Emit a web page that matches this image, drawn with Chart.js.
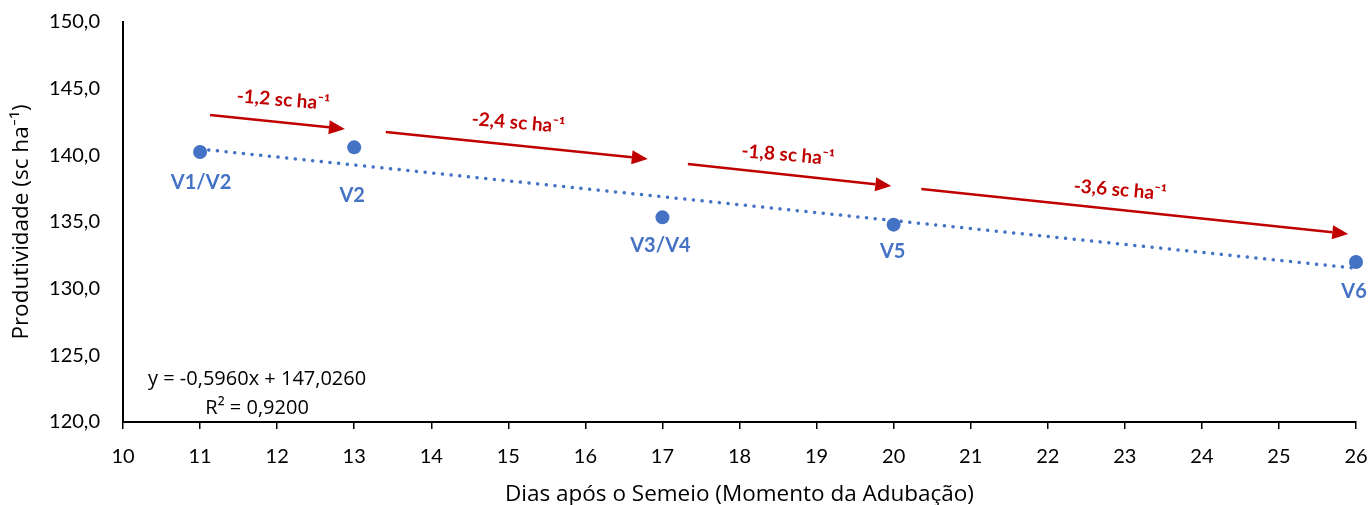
<!DOCTYPE html>
<html>
<head>
<meta charset="utf-8">
<script src="https://cdn.jsdelivr.net/npm/chart.js@4.4.1/dist/chart.umd.min.js"></script>
<style>
  html,body{margin:0;padding:0;background:#fff;overflow:hidden}
  #wrap{width:1369px;height:505px;position:relative}
</style>
</head>
<body>
<div id="wrap"><canvas id="grafico"></canvas></div>
<script>
// dados
const dias = [11, 13, 17, 20, 26];
const produtividade = [140.25, 140.6, 135.35, 134.8, 132.0];
const estadios = ["V1/V2", "V2", "V3/V4", "V5", "V6"];
const tendenciaX = [11, 26];
const tendenciaY = [140.47, 131.53];
const perdas = ["-1,2 sc ha⁻¹", "-2,4 sc ha⁻¹", "-1,8 sc ha⁻¹", "-3,6 sc ha⁻¹"];
const equacao = ["y = -0,5960x + 147,0260", "R² = 0,9200"];

const AZUL = "#4472C4";
const VERMELHO = "#C00000";
const FONTE = "Lato, 'Open Sans', sans-serif";
const FONTE_TIT = "'Open Sans', Lato, sans-serif";

function qs(id){ return document.getElementById(id); }

// setas e rótulos em coordenadas do gráfico (x = dias, y = sc/ha)
const anotacoes = {
  setas: [
    [[11.13, 143.03], [12.88, 141.98]],
    [[13.41, 141.75], [16.81, 139.73]],
    [[17.33, 139.35], [19.97, 137.70]],
    [[20.36, 137.48], [25.90, 134.10]]
  ],
  rotulos: [[12.08, 144.15], [15.13, 142.43], [18.63, 140.03], [22.94, 137.40]],
  equacaoPos: [[11.74, 123.23], [11.74, 121.05]],
  deslocEstadio: [[1, 31], [-2, 48], [-2, 28], [-1, 27], [-2, 30]]
};

const pluginAnotacoes = {
  id: "anotacoes",
  afterDatasetsDraw(chart){
    const {ctx, scales:{x, y}} = chart;
    ctx.save();

    // rótulos dos estádios
    const meta = chart.getDatasetMeta(0);
    ctx.font = "bold 20px " + FONTE;
    ctx.fillStyle = AZUL;
    ctx.textAlign = "center";
    ctx.textBaseline = "middle";
    meta.data.forEach((p, i) => {
      const d = anotacoes.deslocEstadio[i];
      ctx.fillText(estadios[i], p.x + d[0], p.y + d[1]);
    });

    // setas vermelhas
    ctx.strokeStyle = VERMELHO;
    ctx.fillStyle = VERMELHO;
    ctx.lineWidth = 2.5;
    anotacoes.setas.forEach(s => {
      const x0 = x.getPixelForValue(s[0][0]), y0 = y.getPixelForValue(s[0][1]);
      const x1 = x.getPixelForValue(s[1][0]), y1 = y.getPixelForValue(s[1][1]);
      const ang = Math.atan2(y1 - y0, x1 - x0);
      const cab = 16, larg = 7;
      const bx = x1 - cab * Math.cos(ang), by = y1 - cab * Math.sin(ang);
      ctx.beginPath();
      ctx.moveTo(x0, y0);
      ctx.lineTo(bx, by);
      ctx.stroke();
      ctx.beginPath();
      ctx.moveTo(x1, y1);
      ctx.lineTo(bx + larg * Math.sin(ang), by - larg * Math.cos(ang));
      ctx.lineTo(bx - larg * Math.sin(ang), by + larg * Math.cos(ang));
      ctx.closePath();
      ctx.fill();
    });

    // valores das perdas
    ctx.font = "bold 19px " + FONTE;
    anotacoes.rotulos.forEach((r, i) => {
      const s = anotacoes.setas[i];
      const ang = Math.atan2(
        y.getPixelForValue(s[1][1]) - y.getPixelForValue(s[0][1]),
        x.getPixelForValue(s[1][0]) - x.getPixelForValue(s[0][0]));
      ctx.save();
      ctx.translate(x.getPixelForValue(r[0]), y.getPixelForValue(r[1]));
      ctx.rotate(ang * 0.8);
      ctx.fillText(perdas[i], 0, 0);
      ctx.restore();
    });

    // equação da reta
    ctx.font = "20px " + FONTE_TIT;
    ctx.fillStyle = "#000";
    equacao.forEach((t, i) => {
      const pos = anotacoes.equacaoPos[i];
      ctx.fillText(t, x.getPixelForValue(pos[0]), y.getPixelForValue(pos[1]));
    });

    ctx.restore();
  }
};

function montarGrafico(){
  new Chart(qs("grafico"), {
    type: "scatter",
    data: {
      datasets: [
        {
          data: dias.map((d, i) => ({x: d, y: produtividade[i]})),
          backgroundColor: AZUL,
          borderWidth: 0,
          pointRadius: 7,
          pointHoverRadius: 7,
          clip: false
        },
        {
          type: "line",
          data: tendenciaX.map((d, i) => ({x: d, y: tendenciaY[i]})),
          borderColor: AZUL,
          borderWidth: 3.5,
          borderDash: [0.1, 8.6],
          borderCapStyle: "round",
          pointRadius: 0,
          fill: false,
          clip: false
        }
      ]
    },
    options: {
      responsive: true,
      maintainAspectRatio: false,
      animation: false,
      events: [],
      layout: {autoPadding: false, padding: {top: 22, right: 13, left: 0, bottom: 0}},
      plugins: {legend: {display: false}, tooltip: {enabled: false}},
      scales: {
        x: {
          type: "linear",
          min: 10, max: 26,
          afterFit(s){ s.height = 83; s.paddingLeft = 0; s.paddingRight = 0; },
          ticks: {stepSize: 1, color: "#000", padding: 16, font: {family: FONTE, size: 20}},
          grid: {display: true, drawOnChartArea: false, drawTicks: true, tickLength: 7, color: "#000", lineWidth: 1.5},
          border: {display: true, color: "#000", width: 2},
          title: {
            display: true,
            text: "Dias após o Semeio (Momento da Adubação)",
            color: "#000",
            font: {family: FONTE_TIT, size: 22.5},
            padding: {top: 0, bottom: -3}
          }
        },
        y: {
          min: 120, max: 150,
          afterFit(s){ s.width = 123; s.paddingTop = 0; s.paddingBottom = 0; },
          ticks: {
            stepSize: 5, color: "#000", padding: 23,
            font: {family: FONTE, size: 20},
            callback: v => v.toFixed(1).replace(".", ",")
          },
          grid: {display: false, drawTicks: false},
          border: {display: true, color: "#000", width: 2},
          title: {
            display: true,
            text: "Produtividade (sc ha⁻¹)",
            color: "#000",
            font: {family: FONTE_TIT, size: 22.5},
            padding: {top: 8, bottom: 0}
          }
        }
      }
    },
    plugins: [pluginAnotacoes]
  });
}

document.addEventListener("DOMContentLoaded", montarGrafico);
</script>
</body>
</html>
